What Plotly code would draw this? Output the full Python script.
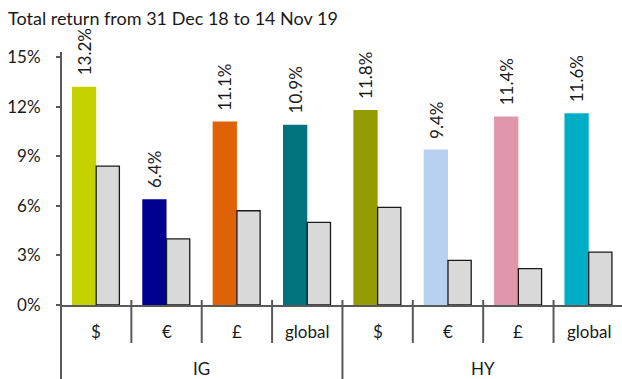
import plotly.graph_objects as go

# Total return by segment, 31 Dec 18 to 14 Nov 19 (%)
groups = ["IG", "HY"]
currencies = ["$", "€", "£", "global"]
segment_returns = [13.2, 6.4, 11.1, 10.9, 11.8, 9.4, 11.4, 11.6]
comparison_returns = [8.4, 4.0, 5.7, 5.0, 5.9, 2.7, 2.2, 3.2]
segment_colors = ["#C4D300", "#00008F", "#E06207", "#00737C",
                  "#949D00", "#B7D1EE", "#E096AB", "#00ADC7"]
y_ticks = [0, 3, 6, 9, 12, 15]
title_text = "Total return from 31 Dec 18 to 14 Nov 19"

FONT = "Lato"
AXIS_COLOR = "#595959"
n = len(segment_returns)
xs = list(range(n))
w_main, w_cmp = 0.345, 0.33

fig = go.Figure()
fig.add_trace(go.Bar(
    x=xs, y=segment_returns, width=w_main, offset=-w_main,
    marker=dict(color=segment_colors, line=dict(width=0)),
    showlegend=False, hoverinfo="skip",
))
fig.add_trace(go.Bar(
    x=xs, y=comparison_returns, width=w_cmp, offset=0,
    marker=dict(color="#D9D9D9", line=dict(color="#1A1A1A", width=1.3)),
    showlegend=False, hoverinfo="skip",
))

annotations = []
# rotated value labels above the coloured bars
for i, v in enumerate(segment_returns):
    annotations.append(dict(
        x=i - w_main / 2, y=v, xref="x", yref="y", text=f"{v:.1f}%",
        textangle=-90, showarrow=False, xanchor="center", yanchor="bottom",
        yshift=9, font=dict(family=FONT, size=17, color="#1A1A1A"),
    ))

# two-level category axis: currencies, then IG / HY
plot_h = 248
def py(px_below_axis):
    return -px_below_axis / plot_h

for i in range(n):
    annotations.append(dict(
        x=i, y=py(26), xref="x", yref="paper", text=currencies[i % len(currencies)],
        showarrow=False, xanchor="center", yanchor="middle",
        font=dict(family=FONT, size=17, color="#1A1A1A"),
    ))
for g, name in enumerate(groups):
    annotations.append(dict(
        x=g * len(currencies) + (len(currencies) - 1) / 2, y=py(63),
        xref="x", yref="paper", text=name, showarrow=False,
        xanchor="center", yanchor="middle", borderpad=0,
        font=dict(family=FONT, size=17, color="#1A1A1A"),
    ))

shapes = []
for k in range(n - 1):
    boundary = k + 0.5
    is_group_edge = (k + 1) % len(currencies) == 0
    shapes.append(dict(
        type="line", xref="x", yref="paper", x0=boundary, x1=boundary,
        y0=5 / plot_h, y1=py(80 if is_group_edge else 38),
        line=dict(color=AXIS_COLOR, width=2),
    ))
# vertical axis line running down through the category labels
shapes.append(dict(
    type="line", xref="paper", yref="paper", x0=0, x1=0,
    y0=1.02, y1=py(80), line=dict(color=AXIS_COLOR, width=2),
))

fig.update_layout(
    width=622, height=379,
    margin=dict(l=61, r=0, t=57, b=74),
    paper_bgcolor="white", plot_bgcolor="white",
    barmode="overlay",
    title=dict(text=title_text, x=8 / 622, xanchor="left", xref="container",
               y=1 - 19 / 379, yanchor="middle", yref="container",
               font=dict(family=FONT, size=18, color="#1A1A1A")),
    xaxis=dict(range=[-0.5, 7.473], showticklabels=False, showgrid=False,
               zeroline=False, showline=True, linecolor=AXIS_COLOR, linewidth=2,
               ticks=""),
    yaxis=dict(range=[0, 15], tickvals=y_ticks,
               ticktext=[f"{t}%" for t in y_ticks], showgrid=False,
               zeroline=False, showline=False, ticks="outside", ticklen=4,
               tickcolor=AXIS_COLOR, tickwidth=2, ticklabelstandoff=12,
               tickfont=dict(family=FONT, size=17, color="#1A1A1A")),
    annotations=annotations,
    shapes=shapes,
)

fig.write_html("out.html")
